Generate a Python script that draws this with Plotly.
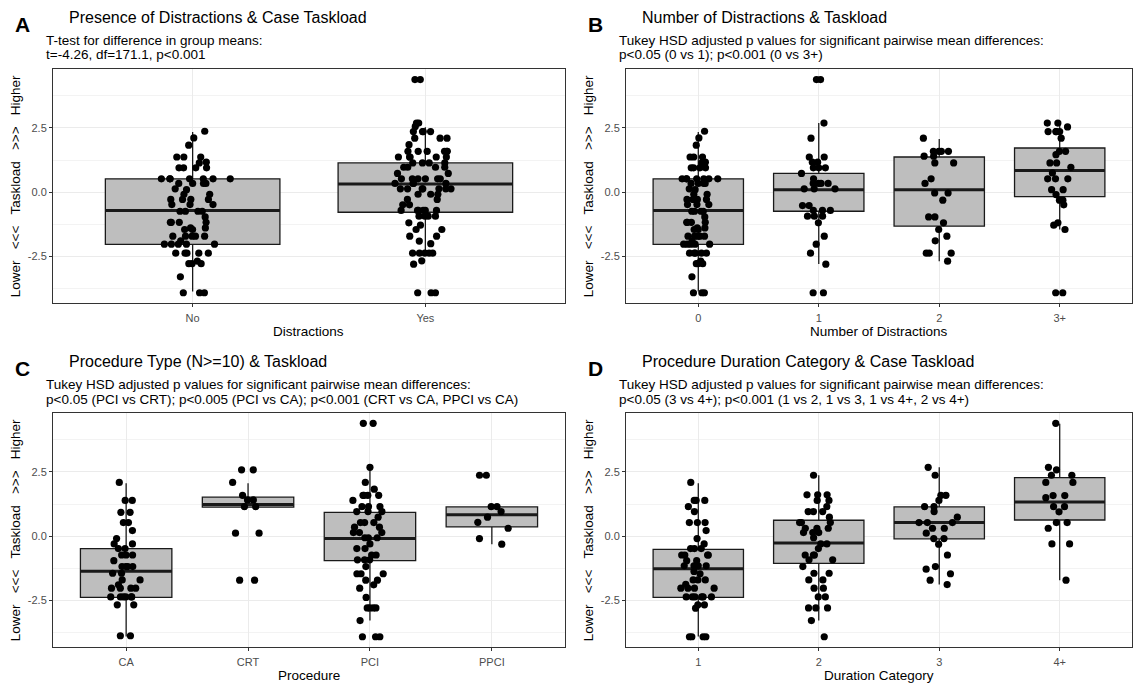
import plotly.graph_objects as go

W, H = 1135, 684

# ---------------- data ----------------
# Panel A: presence of distractions
cats_a = ["No", "Yes"]
no_vals = [2.37, 2.11, 1.83, 1.37, 1.37, 1.37, 1.14, 1.17, 0.95, 0.95, 0.95, 0.95,
           0.52, 0.52, 0.52, 0.52, 0.52, 0.52, 0.52, 0.34, 0.34, 0.34, 0.34, 0.10, 0.13,
           -0.08, -0.08, -0.28, -0.28, -0.28, -0.28, -0.48, -0.48, -0.48,
           -0.74, -0.74, -0.74, -0.74, -0.96, -1.17, -1.17, -1.17, -1.17, -1.39, -1.39,
           -1.45, -1.45, -1.71, -1.71, -1.71, -1.71, -1.71, -1.89,
           -2.02, -2.02, -2.02, -2.02, -2.02, -2.37, -2.37, -2.37, -2.37, -2.37,
           -2.68, -2.78, -2.78, -2.78, -3.29, -3.91, -3.91, -3.91]
yes_vals = [4.38, 4.38, 2.69, 2.69, 2.56, 2.36, 2.36, 2.36, 2.36, 2.10, 2.10, 2.10, 1.85,
            1.59, 1.59, 1.59, 1.59, 1.59, 1.59, 1.37, 1.37, 1.37, 1.37, 1.37,
            1.14, 1.14, 1.14, 1.14, 0.97, 0.97, 0.97, 0.97, 0.73, 0.73,
            0.52, 0.52, 0.52, 0.52, 0.52, 0.52, 0.34, 0.34, 0.34, 0.34,
            0.13, 0.13, 0.13, 0.13, 0.13, 0.13, 0.13, -0.08, -0.08, -0.08, -0.28, -0.28,
            -0.49, -0.49, -0.71, -0.71, -0.71, -0.71, -0.71, -0.71, -0.93, -0.93, -0.93, -0.93,
            -1.19, -1.28, -1.45, -1.45, -1.71, -1.71, -1.90, -2.00,
            -2.37, -2.37, -2.37, -2.37, -2.37, -2.67, -2.80, -3.91, -3.91, -3.91]
a_q1 = [-2.03, -0.78]
a_med = [-0.71, 0.32]
a_q3 = [0.52, 1.14]
a_lo = [-3.86, -2.42]
a_hi = [2.34, 2.53]

# Panel B: number of distractions
cats_b = ["0", "1", "2", "3+"]
b1_vals = [4.38, 4.38, 2.69, 2.10, 1.37, 1.37, 1.17, 1.17, 0.95, 0.95, 0.95, 0.73, 0.52,
           0.34, 0.34, 0.34, 0.34, 0.13, 0.13, 0.13, -0.52, -0.52, -0.71, -0.71, -0.71,
           -0.93, -0.93, -0.93, -1.19, -1.71, -2.02, -2.37, -2.80, -3.91, -3.91]
b2_vals = [2.10, 1.59, 1.59, 1.59, 1.59, 1.40, 1.40, 1.14, 1.14, 0.52, 0.34, -0.03, -0.03,
           -0.31, -0.96, -0.96, -1.19, -1.45, -1.71, -1.89, -2.37, -2.37, -2.37, -2.68]
b3_vals = [2.69, 2.69, 2.54, 2.36, 2.36, 2.36, 2.36, 2.10, 1.59, 1.59, 1.46, 1.14, 1.14,
           0.97, 0.75, 0.52, 0.52, 0.52, 0.10, 0.10, -0.09, -0.31, -0.31, -0.49,
           -1.19, -1.28, -1.45, -3.91, -3.91]
b_q1 = [-2.03, -0.74, -1.32, -0.17]
b_med = [-0.71, 0.10, 0.10, 0.84]
b_q3 = [0.52, 0.73, 1.37, 1.72]
b_lo = [-3.86, -2.79, -2.68, -1.45]
b_hi = [2.34, 2.69, 2.07, 2.69]

# Panel C: procedure type
cats_c = ["CA", "CRT", "PCI", "PPCI"]
ca_vals = [2.09, 1.39, 1.39, 0.93, 0.93, 0.53, 0.53, 0.22, -0.09, -0.30, -0.30, -0.48, -0.48,
           -0.73, -0.73, -0.73, -0.95, -1.18, -1.18, -1.18, -1.18, -1.44, -1.44, -1.70, -1.70,
           -1.89, -2.02, -2.02, -2.02, -2.02, -2.36, -2.36, -2.36, -2.36, -2.36, -2.36,
           -2.67, -2.67, -3.87, -3.87]
crt_vals = [2.58, 2.58, 2.09, 1.59, 1.41, 1.41, 1.15, 1.15, 0.12, 0.12, -1.71, -1.71]
pci_vals = [4.39, 4.39, 2.68, 2.09, 1.83, 1.59, 1.59, 1.59, 1.59, 1.39, 1.15, 1.15, 1.15,
            0.96, 0.96, 0.96, 0.74, 0.53, 0.53, 0.53, 0.35, 0.35, 0.14, 0.14, 0.14,
            -0.06, -0.06, -0.06, -0.30, -0.48, -0.48, -0.73, -0.73, -0.92, -0.92, -0.92,
            -1.18, -1.46, -1.46, -1.46, -1.71, -1.71, -1.89, -2.02, -2.38,
            -2.79, -2.79, -2.79, -2.79, -3.28, -3.91, -3.91, -3.91]
ppci_vals = [2.37, 2.37, 1.15, 1.15, 0.96, 0.74, 0.54, 0.31, -0.09, -0.31]
c_q1 = [-2.38, 1.13, -0.95, 0.36]
c_med = [-1.36, 1.23, -0.09, 0.83]
c_q3 = [-0.48, 1.52, 0.93, 1.14]
c_lo = [-3.90, 1.13, -3.28, -0.31]
c_hi = [2.06, 2.06, 2.68, 1.15]

# Panel D: procedure duration category
cats_d = ["1", "2", "3", "4+"]
d1_vals = [2.09, 1.39, 1.39, 1.39, 1.15, 0.96, 0.53, 0.53, 0.53, 0.22, -0.09, -0.30,
           -0.48, -0.48, -0.48, -0.73, -0.73, -0.73, -0.73, -0.95, -0.95,
           -1.15, -1.15, -1.15, -1.15, -1.37, -1.46, -1.70, -1.70, -1.70, -1.87,
           -2.02, -2.02, -2.02, -2.02, -2.36, -2.36, -2.36, -2.36, -2.36, -2.36,
           -2.67, -2.67, -2.80, -3.91, -3.91, -3.91, -3.91]
d2_vals = [2.37, 1.61, 1.61, 1.61, 1.39, 1.39, 1.15, 0.96, 0.96, 0.96, 0.74, 0.53, 0.53, 0.53,
           0.31, 0.31, 0.31, 0.14, 0.14, 0.14, -0.06, -0.30, -0.30, -0.48,
           -0.73, -0.73, -0.73, -0.92, -0.92, -1.18, -1.44, -1.44, -1.70, -1.70,
           -2.02, -2.02, -2.36, -2.36, -2.79, -2.79, -2.79, -3.28, -3.91]
d3_vals = [2.68, 2.37, 1.59, 1.59, 1.39, 1.15, 1.15, 0.96, 0.74, 0.53, 0.53, 0.53,
           0.31, 0.31, 0.12, -0.09, -0.09, -0.31, -0.73, -1.18, -1.28, -1.46, -1.71, -1.88]
d4_vals = [4.39, 2.68, 2.58, 2.37, 2.37, 2.09, 2.09, 1.58, 1.58, 1.50, 1.15, 1.15, 0.95,
           0.53, 0.53, 0.31, -0.30, -0.30, -1.71]
d_q1 = [-2.38, -1.06, -0.10, 0.63]
d_med = [-1.27, -0.26, 0.53, 1.33]
d_q3 = [-0.51, 0.62, 1.14, 2.28]
d_lo = [-3.90, -3.28, -1.88, -1.71]
d_hi = [2.06, 2.37, 2.68, 4.37]

titles = ["Presence of Distractions & Case Taskload",
          "Number of Distractions & Taskload",
          "Procedure Type (N>=10) & Taskload",
          "Procedure Duration Category & Case Taskload"]
subtitles = [
    ["T-test for difference in group means:", "t=-4.26, df=171.1, p<0.001"],
    ["Tukey HSD adjusted p values for significant pairwise mean differences:",
     "p<0.05 (0 vs 1); p<0.001 (0 vs 3+)"],
    ["Tukey HSD adjusted p values for significant pairwise mean differences:",
     "p<0.05 (PCI vs CRT); p<0.005 (PCI vs CA); p<0.001 (CRT vs CA, PPCI vs CA)"],
    ["Tukey HSD adjusted p values for significant pairwise mean differences:",
     "p<0.05 (3 vs 4+); p<0.001 (1 vs 2, 1 vs 3, 1 vs 4+, 2 vs 4+)"],
]
letters = ["A", "B", "C", "D"]
x_titles = ["Distractions", "Number of Distractions", "Procedure", "Duration Category"]
y_title = "Lower   <<<   Taskload   >>>   Higher"
y_ticks = [-2.5, 0.0, 2.5]
y_tick_text = ["-2.5", "0.0", "2.5"]
y_minor = [-3.75, -1.25, 1.25, 3.75]

panels = [
    dict(cats=cats_a, vals=[no_vals, yes_vals], q1=a_q1, med=a_med, q3=a_q3, lo=a_lo, hi=a_hi),
    dict(cats=cats_b, vals=[no_vals, b1_vals, b2_vals, b3_vals], q1=b_q1, med=b_med, q3=b_q3, lo=b_lo, hi=b_hi),
    dict(cats=cats_c, vals=[ca_vals, crt_vals, pci_vals, ppci_vals], q1=c_q1, med=c_med, q3=c_q3, lo=c_lo, hi=c_hi),
    dict(cats=cats_d, vals=[d1_vals, d2_vals, d3_vals, d4_vals], q1=d_q1, med=d_med, q3=d_q3, lo=d_lo, hi=d_hi),
]

# ---------------- layout geometry (pixels) ----------------
FONT = "Liberation Sans, Arial, sans-serif"
px_x = lambda v: v / W
px_y = lambda v: 1 - v / H

plot_boxes = [  # left, right, top, bottom
    (53, 565, 69.3, 303.3),
    (626, 1132, 69.3, 303.3),
    (53, 565, 413.3, 647.3),
    (626, 1132, 413.3, 647.3),
]
col_left = [0, 573, 0, 573]
row_top = [0, 0, 344, 344]

BOXLINE = "#1A1A1A"
fig = go.Figure()
layout = dict(width=W, height=H, autosize=False, margin=dict(l=0, r=0, t=0, b=0),
              paper_bgcolor="white", plot_bgcolor="white", boxmode="overlay",
              showlegend=False, font=dict(family=FONT, color="black"))
annotations = []

for i, p in enumerate(panels):
    sfx = "" if i == 0 else str(i + 1)
    xa, ya = "x" + sfx, "y" + sfx
    cats = p["cats"]
    fig.add_trace(go.Box(x=cats, q1=p["q1"], median=p["med"], q3=p["q3"],
                         lowerfence=p["lo"], upperfence=p["hi"], boxpoints=False,
                         width=0.75, fillcolor="#BEBEBE", whiskerwidth=0,
                         line=dict(color=BOXLINE, width=1.3), xaxis=xa, yaxis=ya,
                         hoverinfo="skip"))
    fig.add_trace(go.Box(x=cats, q1=p["med"], median=p["med"], q3=p["med"],
                         lowerfence=p["med"], upperfence=p["med"], boxpoints=False,
                         width=0.75, fillcolor="rgba(0,0,0,0)",
                         line=dict(color=BOXLINE, width=3), xaxis=xa, yaxis=ya,
                         hoverinfo="skip"))
    for c, v in zip(cats, p["vals"]):
        fig.add_trace(go.Box(x=[c] * len(v), y=v, boxpoints="all", jitter=0.46, pointpos=0,
                             width=0.75, fillcolor="rgba(0,0,0,0)",
                             line=dict(color="rgba(0,0,0,0)", width=0),
                             marker=dict(color="black", size=7.2), xaxis=xa, yaxis=ya,
                             hoverinfo="skip"))
    l, r, t, b = plot_boxes[i]
    n = len(cats)
    axcommon = dict(showline=True, mirror=True, linecolor="#333333", linewidth=1,
                    ticks="outside", ticklen=3, tickcolor="#333333", tickwidth=1,
                    tickfont=dict(family=FONT, size=11, color="#4D4D4D"),
                    showgrid=True, gridcolor="#EBEBEB", gridwidth=1, zeroline=False)
    layout["xaxis" + sfx] = dict(domain=[px_x(l), px_x(r)], anchor=ya, type="category",
                                 range=[-0.6, n - 0.4], categoryorder="array",
                                 categoryarray=cats, ticklabelstandoff=1, **axcommon)
    layout["yaxis" + sfx] = dict(domain=[px_y(b), px_y(t)], anchor=xa, range=[-4.32, 4.78],
                                 tickvals=y_ticks, ticktext=y_tick_text,
                                 minor=dict(tickvals=y_minor, showgrid=True,
                                            gridcolor="#F3F3F3", gridwidth=1, ticks=""),
                                 **axcommon)
    cl, rt = col_left[i], row_top[i]
    # letter
    annotations.append(dict(text="<b>%s</b>" % letters[i], x=px_x(cl + 22), y=px_y(rt + 24.5),
                            xref="paper", yref="paper", xanchor="center", yanchor="middle",
                            showarrow=False, font=dict(family=FONT, size=21, color="black")))
    # title
    annotations.append(dict(text=titles[i], x=px_x(cl + 67), y=px_y(rt + 17),
                            xref="paper", yref="paper", xanchor="left", yanchor="middle",
                            showarrow=False, font=dict(family=FONT, size=16, color="black")))
    # subtitle lines
    for k, line in enumerate(subtitles[i]):
        annotations.append(dict(text=line, x=px_x(cl + 44), y=px_y(rt + 40 + 15 * k),
                                xref="paper", yref="paper", xanchor="left", yanchor="middle",
                                showarrow=False, font=dict(family=FONT, size=13.5, color="black")))
    # x title
    annotations.append(dict(text=x_titles[i], x=px_x((l + r) / 2), y=px_y(rt + 331.5),
                            xref="paper", yref="paper", xanchor="center", yanchor="middle",
                            showarrow=False, font=dict(family=FONT, size=13.5, color="black")))
    # y title
    annotations.append(dict(text=y_title, x=px_x(cl + 15), y=px_y((t + b) / 2),
                            xref="paper", yref="paper", xanchor="center", yanchor="middle",
                            textangle=-90, showarrow=False,
                            font=dict(family=FONT, size=13.5, color="black")))

layout["annotations"] = annotations
fig.update_layout(**layout)
fig.write_html("out.html", config={"displayModeBar": False},
               post_script="document.body.style.margin='0px';")
